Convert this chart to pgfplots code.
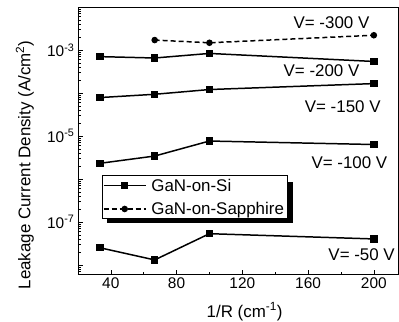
\documentclass[border=0pt]{standalone}
\usepackage{fontspec}
\setmainfont{Liberation Sans}
\usepackage{pgfplots}
\pgfplotsset{compat=1.18}
\begin{document}
\begin{tikzpicture}
\begin{axis}[
  scale only axis, width=321bp, height=268bp,
  ymode=log,
  xmin=20, xmax=215, ymin=5.9e-9, ymax=1e-2,
  xtick={40,80,120,160,200}, minor x tick num=1,
  ytick={1e-8,1e-7,1e-6,1e-5,1e-4,1e-3,1e-2},
  minor ytick={6e-9,7e-9,8e-9,9e-9,
    2e-8,3e-8,4e-8,5e-8,6e-8,7e-8,8e-8,9e-8,
    2e-7,3e-7,4e-7,5e-7,6e-7,7e-7,8e-7,9e-7,
    2e-6,3e-6,4e-6,5e-6,6e-6,7e-6,8e-6,9e-6,
    2e-5,3e-5,4e-5,5e-5,6e-5,7e-5,8e-5,9e-5,
    2e-4,3e-4,4e-4,5e-4,6e-4,7e-4,8e-4,9e-4,
    2e-3,3e-3,4e-3,5e-3,6e-3,7e-3,8e-3,9e-3},
  yticklabel={\pgfmathparse{int(round(\tick/ln(10)))}\ifodd\pgfmathresult\relax 10\textsuperscript{\pgfmathresult}\fi},
  /pgf/number format/assume math mode=true,
  tick pos=left, tick align=inside,
  major tick length=5bp, minor tick length=3bp,
  tick label style={font=\fontsize{15.5}{18}\selectfont},
  axis line style={line width=0.6pt},
  every tick/.style={black, line width=0.5pt},
  xlabel={1/R (cm\textsuperscript{-1})},
  ylabel={Leakage Current Density (A/cm\textsuperscript{2})},
  every axis y label/.style={at={([xshift=-53bp]axis description cs:0,0.41)}, rotate=90, anchor=center, font=\fontsize{17}{20}\selectfont},
  every axis x label/.style={at={([yshift=-37bp]axis description cs:0.52,0)}, anchor=center, font=\fontsize{17}{20}\selectfont},
  legend cell align=left,
  legend style={at={(rel axis cs:0.0738,0.3705)}, anchor=north west, draw=black, line width=0.8pt, fill=white,
    font=\fontsize{17}{20}\selectfont, row sep=5.5bp, column sep=3bp, inner sep=1bp},
  legend image code/.code={\draw[mark repeat=2,mark phase=2] plot coordinates {(0bp,0bp)(21bp,0bp)(42bp,0bp)};},
]
\fill[black] (rel axis cs:0.0903,0.347) rectangle (rel axis cs:0.6698,0.194);
\addplot[black, line width=1.5pt, mark=square*, mark size=3bp] coordinates {(33.3,7e-4)(66.7,6.5e-4)(100,8.3e-4)(200,5.4e-4)};
\addlegendentry{GaN-on-Si}
\addplot[black, line width=1.5pt, dash pattern=on 5bp off 3bp, mark=*, mark size=2.5bp, mark options={solid}] coordinates {(66.7,1.7e-3)(100,1.47e-3)(200,2.2e-3)};
\addlegendentry{GaN-on-Sapphire}
\addplot[black, line width=1.5pt, mark=square*, mark size=3bp, forget plot] coordinates {(33.3,7.8e-5)(66.7,9.3e-5)(100,1.2e-4)(200,1.65e-4)};
\addplot[black, line width=1.5pt, mark=square*, mark size=3bp, forget plot] coordinates {(33.3,2.3e-6)(66.7,3.4e-6)(100,7.6e-6)(200,6.3e-6)};
\addplot[black, line width=1.5pt, mark=square*, mark size=3bp, forget plot] coordinates {(33.3,2.5e-8)(66.7,1.3e-8)(100,5.3e-8)(200,4e-8)};
\node[font=\fontsize{17}{20}\selectfont] at (rel axis cs:0.791,0.940) {V= -300 V};
\node[font=\fontsize{17}{20}\selectfont] at (rel axis cs:0.760,0.761) {V= -200 V};
\node[font=\fontsize{17}{20}\selectfont] at (rel axis cs:0.826,0.627) {V= -150 V};
\node[font=\fontsize{17}{20}\selectfont] at (rel axis cs:0.847,0.418) {V= -100 V};
\node[font=\fontsize{17}{20}\selectfont] at (rel axis cs:0.885,0.075) {V= -50 V};
\end{axis}
\pgfresetboundingbox
\path[use as bounding box] ([xshift=-78bp,yshift=-47bp]current axis.south west) rectangle ([xshift=0.5bp,yshift=7bp]current axis.north east);
\end{tikzpicture}
\end{document}
